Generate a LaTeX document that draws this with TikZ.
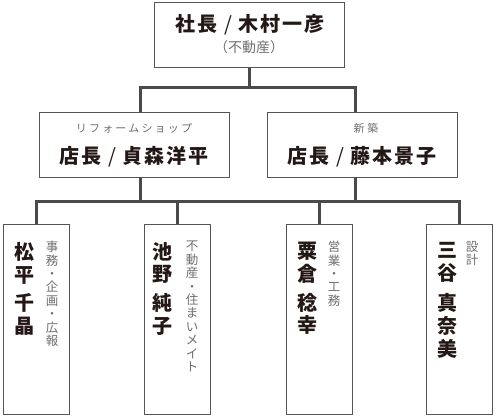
\documentclass[tikz,border=0pt]{standalone}
\usepackage{fontspec}
\setmainfont{Noto Sans CJK JP}
\definecolor{linegray}{HTML}{4A4A4A}
\definecolor{boxgray}{HTML}{555555}
\definecolor{namecol}{HTML}{231815}
\definecolor{subcol}{HTML}{6E6E6E}
\begin{document}
\begin{tikzpicture}[x=1pt,y=-1pt,
  box/.style={draw=boxgray,line width=1pt,minimum width=190pt,minimum height=65pt,inner sep=0pt},
  pbox/.style={draw=boxgray,line width=1pt,minimum width=66pt,minimum height=190pt,inner sep=0pt},
  link/.style={draw=linegray,line width=3pt},
  namelbl/.style={inner sep=0pt,text=namecol,font=\bfseries\fontsize{20}{22.7}\selectfont\addfontfeatures{LetterSpace=10}},
  sublbl/.style={inner sep=0pt,text=subcol,font=\fontsize{11}{13}\selectfont\addfontfeatures{LetterSpace=20}},
  vname/.style={inner sep=0pt,anchor=north,align=center,text=namecol,font=\bfseries\fontsize{20}{22.7}\selectfont},
  vsub/.style={inner sep=0pt,anchor=north,align=center,text=subcol,font=\fontsize{12.5}{13.4}\selectfont}]
\useasboundingbox (0,0) rectangle (496,416);
% boxes
\node[box] (shacho) at (249,34.5) {};
\node[box] (shop) at (134,144.5) {};
\node[box] (shinchiku) at (362,144.5) {};
\node[pbox] (matsu) at (36,319) {};
\node[pbox] (ikeno) at (177.5,319) {};
\node[pbox] (kuri) at (319,319) {};
\node[pbox] (mitani) at (459.5,319) {};
% connectors
\coordinate (b1l) at (140,87);
\coordinate (b1r) at (355,87);
\coordinate (b2) at (250,201);
\draw[link] (shacho.south) -- (shacho.south |- b1l);
\draw[link] (shop.north -| b1l) |- (b1r) -- (b1r |- shinchiku.north);
\draw[link] (matsu.north) |- (b2) -| (mitani.north);
\draw[link] (ikeno.north) -- (ikeno.north |- b2);
\draw[link] (kuri.north) -- (kuri.north |- b2);
\draw[link] (shop.south -| b1l) -- (b1l |- b2);
\draw[link] (shinchiku.south -| b1r) -- (b1r |- b2);
% texts
\node[namelbl] (shacho-name) at (250,25) {社長 {\mdseries /} 木村一彦};
\node[sublbl,font=\fontsize{14}{16}\selectfont] (shacho-sub) at (249,47) {（不動産）};
\node[sublbl] (shop-sub) at (134,128) {リフォームショップ};
\node[namelbl] (shop-name) at (134,157) {店長 {\mdseries /} 貞森洋平};
\node[sublbl] (shinchiku-sub) at (366,128) {新\hspace{3pt}築};
\node[namelbl] (shinchiku-name) at (362,157) {店長 {\mdseries /} 藤本景子};
\node[vname] (matsu-name) at (25,242) {松\\平\\[6pt]千\\晶};
\node[vsub] (matsu-sub) at (52,241) {事\\務\\・\\企\\画\\・\\広\\報};
\node[vname] (ikeno-name) at (162,242) {池\\野\\[6pt]純\\子};
\node[vsub] (ikeno-sub) at (192,241) {不\\動\\産\\・\\住\\ま\\い\\メ\\イ\\ト};
\node[vname] (kuri-name) at (307,242) {粟\\倉\\[6pt]稔\\幸};
\node[vsub] (kuri-sub) at (334,241) {営\\業\\・\\工\\務};
\node[vname] (mitani-name) at (447,242) {三\\谷\\[8pt]真\\奈\\美};
\node[vsub] (mitani-sub) at (472,241) {設\\計};
\end{tikzpicture}
\end{document}
